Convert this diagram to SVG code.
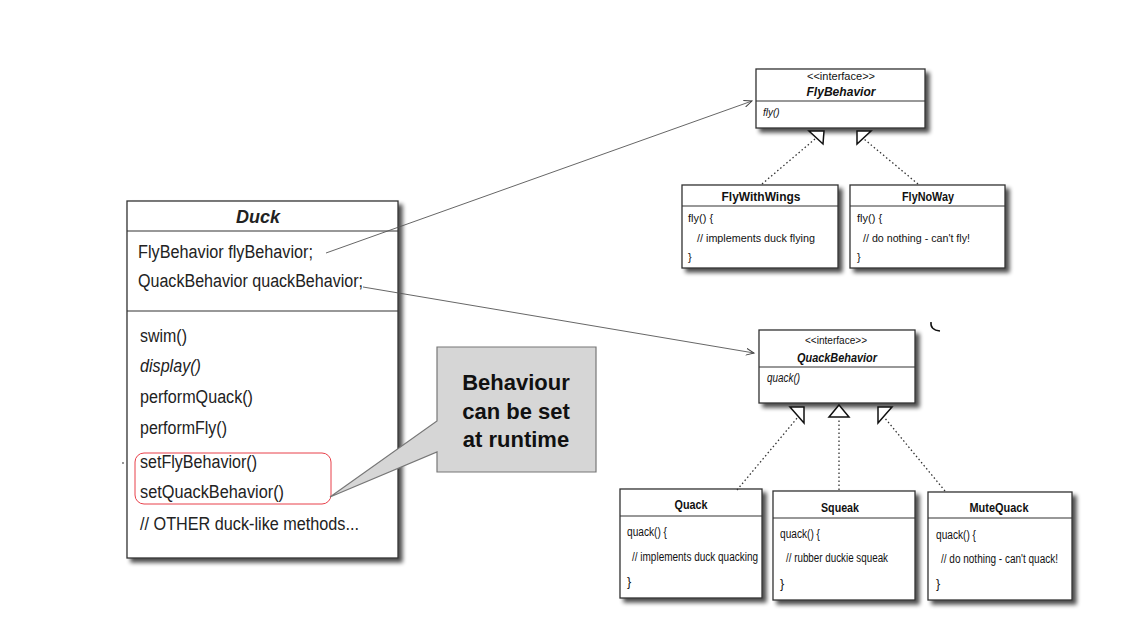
<svg xmlns="http://www.w3.org/2000/svg" width="1144" height="642" viewBox="0 0 1144 642">
<defs>
<filter id="sh" x="-10%" y="-10%" width="130%" height="130%">
<feGaussianBlur in="SourceAlpha" stdDeviation="2"/>
<feOffset dx="4" dy="4" result="b"/>
<feComponentTransfer><feFuncA type="linear" slope="0.7"/></feComponentTransfer>
<feMerge><feMergeNode/><feMergeNode in="SourceGraphic"/></feMerge>
</filter>
<marker id="arr" markerWidth="10" markerHeight="8" refX="8" refY="4" orient="auto" markerUnits="userSpaceOnUse">
<path d="M0,0.5 L8,4 L0,7.5" fill="none" stroke="#444" stroke-width="1"/>
</marker>
</defs>
<style>
.box{fill:#fff;stroke:#333;stroke-width:1.3}
.div{stroke:#333;stroke-width:1.2}
.t{font-family:"Liberation Sans",Arial,Helvetica,sans-serif;fill:#111}
.dk{font-size:18px;fill:#222}
.sm{font-size:11px}
.cb{font-size:12.5px}
.ttl{font-size:13px;font-weight:bold}
.bi{font-weight:bold;font-style:italic}
.it{font-style:italic}
.mid{text-anchor:middle}
.tri{fill:#fff;stroke:#111;stroke-width:1.5;stroke-linejoin:miter}
.dot{fill:none;stroke:#333;stroke-width:1.3;stroke-dasharray:1.5 2.5}
.assoc{fill:none;stroke:#555;stroke-width:0.9}
</style>
<rect width="1144" height="642" fill="#fff"/>

<g id="duck">
<rect class="box" x="127" y="201" width="271" height="357" filter="url(#sh)" stroke="#444" stroke-width="1.6"/>
<line class="div" x1="127" y1="231" x2="398" y2="231"/>
<line class="div" x1="127" y1="311" x2="398" y2="311" stroke="#666"/>
<text class="t dk bi mid" x="258" y="223" fill="#111">Duck</text>
<text class="t dk" x="138" y="258" textLength="175" lengthAdjust="spacingAndGlyphs">FlyBehavior flyBehavior;</text>
<text class="t dk" x="138" y="287" textLength="225" lengthAdjust="spacingAndGlyphs">QuackBehavior quackBehavior;</text>
<text class="t dk" x="140" y="342" textLength="47" lengthAdjust="spacingAndGlyphs">swim()</text>
<text class="t dk it" x="140" y="372" textLength="61" lengthAdjust="spacingAndGlyphs">display()</text>
<text class="t dk" x="140" y="403" textLength="113" lengthAdjust="spacingAndGlyphs">performQuack()</text>
<text class="t dk" x="140" y="434" textLength="87" lengthAdjust="spacingAndGlyphs">performFly()</text>
<text class="t dk" x="140" y="468" textLength="117" lengthAdjust="spacingAndGlyphs">setFlyBehavior()</text>
<text class="t dk" x="140" y="498" textLength="144" lengthAdjust="spacingAndGlyphs">setQuackBehavior()</text>
<text class="t dk" x="140" y="530" textLength="219" lengthAdjust="spacingAndGlyphs">// OTHER duck-like methods...</text>
<rect x="135" y="453" width="196" height="51" rx="9" fill="none" stroke="#e8404a" stroke-width="1"/>
</g>

<g id="callout">
<path d="M437,347 H596 V472 H437 V452 L330,497 L437,421 Z" fill="#d6d6d6" stroke="#777" stroke-width="1.2"/>
<text class="t mid" x="516" y="390" font-size="22" font-weight="bold" fill="#000">Behaviour</text>
<text class="t mid" x="516" y="419" font-size="22" font-weight="bold" fill="#000">can be set</text>
<text class="t mid" x="516" y="447" font-size="22" font-weight="bold" fill="#000">at runtime</text>
</g>

<g id="flybehavior">
<rect class="box" x="756" y="69" width="169" height="59" filter="url(#sh)"/>
<line class="div" x1="756" y1="101" x2="925" y2="101"/>
<text class="t mid" x="841" y="80" font-size="10" textLength="68" lengthAdjust="spacingAndGlyphs">&lt;&lt;interface&gt;&gt;</text>
<text class="t bi mid" x="841" y="96" font-size="12" textLength="69" lengthAdjust="spacingAndGlyphs">FlyBehavior</text>
<text class="t it" x="763" y="116" font-size="10">fly()</text>
</g>

<g id="flywithwings">
<rect class="box" x="682" y="185" width="156" height="83" filter="url(#sh)"/>
<line class="div" x1="682" y1="206" x2="838" y2="206"/>
<text class="t mid" x="761" y="201" font-size="12" font-weight="bold" textLength="79" lengthAdjust="spacingAndGlyphs">FlyWithWings</text>
<text class="t sm" x="688" y="222">fly() {</text>
<text class="t sm" x="697" y="242" textLength="118" lengthAdjust="spacingAndGlyphs">// implements duck flying</text>
<text class="t sm" x="688" y="261">}</text>
</g>

<g id="flynoway">
<rect class="box" x="850" y="185" width="155" height="83" filter="url(#sh)"/>
<line class="div" x1="850" y1="206" x2="1005" y2="206"/>
<text class="t mid" x="928" y="201" font-size="12" font-weight="bold" textLength="52" lengthAdjust="spacingAndGlyphs">FlyNoWay</text>
<text class="t sm" x="857" y="222">fly() {</text>
<text class="t sm" x="863" y="242" textLength="107" lengthAdjust="spacingAndGlyphs">// do nothing - can't fly!</text>
<text class="t sm" x="857" y="261">}</text>
</g>

<g id="quackbehavior">
<rect class="box" x="759" y="330" width="156" height="73" filter="url(#sh)"/>
<line class="div" x1="759" y1="367" x2="915" y2="367"/>
<text class="t mid" x="836" y="344" font-size="11" textLength="62" lengthAdjust="spacingAndGlyphs">&lt;&lt;interface&gt;&gt;</text>
<text class="t bi mid" x="837" y="362" font-size="13" textLength="80" lengthAdjust="spacingAndGlyphs">QuackBehavior</text>
<text class="t it" x="767" y="382" font-size="12" textLength="33" lengthAdjust="spacingAndGlyphs">quack()</text>
</g>

<g id="quack">
<rect class="box" x="620" y="489" width="142" height="109" filter="url(#sh)"/>
<line class="div" x1="620" y1="516" x2="762" y2="516"/>
<text class="t ttl mid" x="691" y="509" textLength="33" lengthAdjust="spacingAndGlyphs">Quack</text>
<text class="t cb" x="627" y="536" textLength="40" lengthAdjust="spacingAndGlyphs">quack() {</text>
<text class="t cb" x="632" y="561" textLength="126" lengthAdjust="spacingAndGlyphs">// implements duck quacking</text>
<text class="t cb" x="627" y="586">}</text>
</g>

<g id="squeak">
<rect class="box" x="773" y="491" width="142" height="109" filter="url(#sh)"/>
<line class="div" x1="773" y1="518" x2="915" y2="518"/>
<text class="t ttl mid" x="840" y="512" textLength="38" lengthAdjust="spacingAndGlyphs">Squeak</text>
<text class="t cb" x="780" y="538" textLength="40" lengthAdjust="spacingAndGlyphs">quack() {</text>
<text class="t cb" x="786" y="562" textLength="102" lengthAdjust="spacingAndGlyphs">// rubber duckie squeak</text>
<text class="t cb" x="780" y="588">}</text>
</g>

<g id="mutequack">
<rect class="box" x="928" y="492" width="144" height="108" filter="url(#sh)"/>
<line class="div" x1="928" y1="518" x2="1072" y2="518"/>
<text class="t ttl mid" x="999" y="512" textLength="59" lengthAdjust="spacingAndGlyphs">MuteQuack</text>
<text class="t cb" x="936" y="539" textLength="40" lengthAdjust="spacingAndGlyphs">quack() {</text>
<text class="t cb" x="941" y="563" textLength="117" lengthAdjust="spacingAndGlyphs">// do nothing - can't quack!</text>
<text class="t cb" x="936" y="588">}</text>
</g>

<g id="connectors">
<line class="assoc" x1="326" y1="253" x2="752" y2="101" marker-end="url(#arr)"/>
<line class="assoc" x1="363" y1="287" x2="754" y2="353" marker-end="url(#arr)"/>
<line class="dot" x1="762" y1="184" x2="815" y2="139"/>
<line class="dot" x1="918" y1="184" x2="864" y2="139"/>
<line class="dot" x1="737" y1="490" x2="798" y2="417"/>
<line class="dot" x1="839" y1="490" x2="839" y2="418"/>
<line class="dot" x1="945" y1="491" x2="884" y2="417"/>
<path class="tri" d="M809,131 L824,131 L823,144 Z"/>
<path class="tri" d="M857,131 L871,131 L857,144 Z"/>
<path class="tri" d="M790,407 L804,407 L804,423 Z"/>
<path class="tri" d="M839,405 L849,417 L829,417 Z"/>
<path class="tri" d="M878,407 L892,407 L878,423 Z"/>
</g>

<path d="M931,322 Q930,330 940,331" fill="none" stroke="#111" stroke-width="1.5"/>
<circle cx="123" cy="463" r="0.9" fill="#666"/>
</svg>
